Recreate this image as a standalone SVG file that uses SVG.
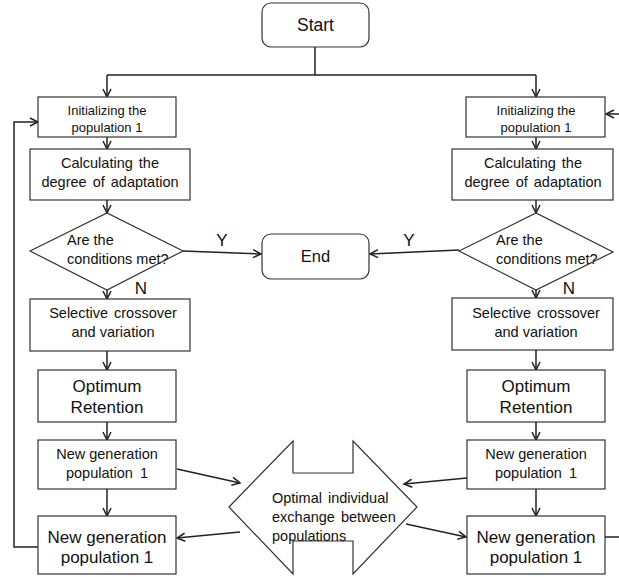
<svg xmlns="http://www.w3.org/2000/svg" width="619" height="577" viewBox="0 0 619 577">
<style>
.box{fill:#fff;stroke:#333;stroke-width:1.2}
.con{fill:none;stroke:#222;stroke-width:1.5}
.t{font-family:"Liberation Sans",Arial,sans-serif;fill:#111;text-anchor:middle}
.l{text-anchor:start}
.s12{font-size:13px}
.s14{font-size:14.5px}
.s17{font-size:17px}
</style>
<defs>
<marker id="ah" markerUnits="userSpaceOnUse" markerWidth="12" markerHeight="12" refX="9" refY="5" orient="auto">
<path d="M1,1 L9,5 L1,9" fill="none" stroke="#222" stroke-width="1.5"/>
</marker>
</defs>
<rect width="619" height="577" fill="#fff"/>

<g id="connectors" class="con">
<path d="M315,47 V75"/>
<path d="M107,75 H536"/>
<path d="M107,75 V97" marker-end="url(#ah)"/>
<path d="M536,75 V97" marker-end="url(#ah)"/>
<path d="M107,137 V149" marker-end="url(#ah)"/>
<path d="M536,137 V149" marker-end="url(#ah)"/>
<path d="M107,200 V213" marker-end="url(#ah)"/>
<path d="M536,200 V213" marker-end="url(#ah)"/>
<path d="M107,290 V299" marker-end="url(#ah)"/>
<path d="M536,290 V298" marker-end="url(#ah)"/>
<path d="M107,351 V370" marker-end="url(#ah)"/>
<path d="M536,350 V370" marker-end="url(#ah)"/>
<path d="M107,422 V440" marker-end="url(#ah)"/>
<path d="M536,422 V440" marker-end="url(#ah)"/>
<path d="M107,489 V516" marker-end="url(#ah)"/>
<path d="M536,489 V516" marker-end="url(#ah)"/>
<path d="M183,251 L261,254" marker-end="url(#ah)"/>
<path d="M459,250 L370,254" marker-end="url(#ah)"/>
<path d="M38,547 H14 V122 H38" marker-end="url(#ah)"/>
<path d="M605,537 H619"/>
<path d="M619,114 H606" marker-end="url(#ah)"/>
<path d="M177,469 L240,483" marker-end="url(#ah)"/>
<path d="M240,532 L177,538" marker-end="url(#ah)"/>
<path d="M467,478 L404,484" marker-end="url(#ah)"/>
<path d="M406,524 L466,537" marker-end="url(#ah)"/>
</g>

<g id="start">
<rect class="box" x="262" y="3" width="107" height="44" rx="9"/>
<text class="t" x="315.5" y="31" style="font-size:17.5px">Start</text>
</g>
<g id="end">
<rect class="box" x="262" y="234" width="107" height="45" rx="9"/>
<text class="t" x="315.5" y="262" style="font-size:16.5px">End</text>
</g>

<g id="init-left">
<rect class="box" x="38" y="97" width="138" height="40"/>
<text class="t s12" x="107" y="114.5">Initializing the</text>
<text class="t s12" x="107" y="131.5">population 1</text>
</g>
<g id="init-right">
<rect class="box" x="466" y="97" width="139" height="40"/>
<text class="t s12" x="536" y="114.5">Initializing the</text>
<text class="t s12" x="536" y="131.5">population 1</text>
</g>

<g id="calc-left">
<rect class="box" x="30" y="149" width="160" height="51"/>
<text class="t s14" x="110" y="168" word-spacing="2">Calculating the</text>
<text class="t s14" x="110" y="187" word-spacing="2">degree of adaptation</text>
</g>
<g id="calc-right">
<rect class="box" x="452" y="149" width="161" height="51"/>
<text class="t s14" x="533" y="168" word-spacing="2">Calculating the</text>
<text class="t s14" x="533" y="187" word-spacing="2">degree of adaptation</text>
</g>

<g id="cond-left">
<polygon class="box" points="30,251 107,213 183,251 107,290"/>
<text class="t s14 l" x="67" y="245">Are the</text>
<text class="t s14 l" x="67" y="264">conditions met?</text>
</g>
<g id="cond-right">
<polygon class="box" points="459,251 536,213 613,252 536,290"/>
<text class="t s14 l" x="496" y="245">Are the</text>
<text class="t s14 l" x="496" y="264">conditions met?</text>
</g>

<g id="labels">
<text class="t s17" x="222" y="246">Y</text>
<text class="t s17" x="409" y="246">Y</text>
<text class="t s17" x="141" y="294">N</text>
<text class="t s17" x="569" y="294">N</text>
</g>

<g id="select-left">
<rect class="box" x="30" y="299" width="160" height="52"/>
<text class="t s14" x="113" y="318" word-spacing="2">Selective crossover</text>
<text class="t s14" x="113" y="337">and variation</text>
</g>
<g id="select-right">
<rect class="box" x="452" y="298" width="161" height="52"/>
<text class="t s14" x="536" y="318" word-spacing="2">Selective crossover</text>
<text class="t s14" x="536" y="337">and variation</text>
</g>

<g id="optimum-left">
<rect class="box" x="38" y="370" width="138" height="52"/>
<text class="t s17" x="107" y="392">Optimum</text>
<text class="t s17" x="107" y="413">Retention</text>
</g>
<g id="optimum-right">
<rect class="box" x="467" y="370" width="138" height="52"/>
<text class="t s17" x="536" y="392">Optimum</text>
<text class="t s17" x="536" y="413">Retention</text>
</g>

<g id="newgen1-left">
<rect class="box" x="38" y="440" width="138" height="49"/>
<text class="t s14" x="107" y="459">New generation</text>
<text class="t s14" x="107" y="478" word-spacing="3">population 1</text>
</g>
<g id="newgen1-right">
<rect class="box" x="467" y="440" width="138" height="49"/>
<text class="t s14" x="536" y="459">New generation</text>
<text class="t s14" x="536" y="478" word-spacing="3">population 1</text>
</g>

<g id="newgen2-left">
<rect class="box" x="38" y="516" width="138" height="58"/>
<text class="t s17" x="107" y="543">New generation</text>
<text class="t s17" x="107" y="563">population 1</text>
</g>
<g id="newgen2-right">
<rect class="box" x="467" y="516" width="138" height="58"/>
<text class="t s17" x="536" y="543">New generation</text>
<text class="t s17" x="536" y="563">population 1</text>
</g>

<g id="exchange">
<polygon class="box" points="229,507 293,441 293,473 353,473 353,441 417,507 353,574 353,541 293,541 293,574"/>
<text class="t s14 l" x="272" y="503" word-spacing="2">Optimal individual</text>
<text class="t s14 l" x="272" y="522" word-spacing="2">exchange between</text>
<text class="t s14 l" x="272" y="541">populations</text>
</g>
</svg>
